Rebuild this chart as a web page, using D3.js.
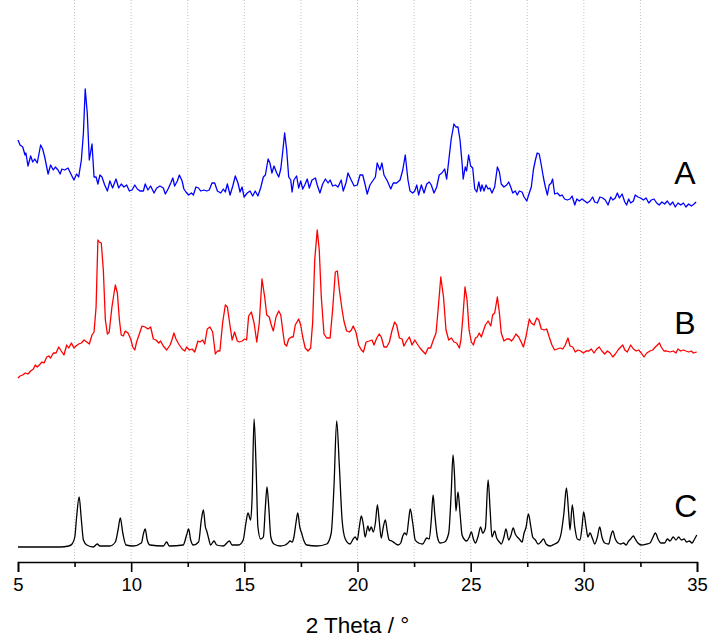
<!DOCTYPE html>
<html>
<head>
<meta charset="utf-8">
<script src="https://cdn.jsdelivr.net/npm/d3@7"></script>
<style>
  html, body { margin: 0; padding: 0; background: #fff; }
  svg { display: block; }
</style>
</head>
<body>
<svg id="chart" width="712" height="637"></svg>
<script>
// Powder XRD patterns: [2θ (°), intensity (a.u.)]
const patternA = [
  [5.00,70],[5.09,65],[5.21,63],[5.31,55],[5.35,57],[5.44,44],[5.56,54],[5.65,48],[5.74,51],[5.85,47],
  [6.00,65],[6.09,61],[6.18,53],[6.33,36],[6.44,45],[6.56,40],[6.65,43],[6.77,40],[6.86,36],[6.94,41],
  [7.06,40],[7.21,42],[7.36,35],[7.47,30],[7.59,36],[7.68,33],[7.80,50],[7.89,77],[7.97,121],[8.06,97],
  [8.15,50],[8.27,66],[8.36,33],[8.45,33],[8.53,26],[8.62,35],[8.71,33],[8.83,25],[8.95,19],[9.06,29],
  [9.18,22],[9.33,31],[9.45,22],[9.56,26],[9.68,23],[9.80,25],[9.92,19],[10.04,20],[10.16,25],[10.27,21],
  [10.39,19],[10.54,19],[10.62,26],[10.74,20],[10.86,24],[11.01,17],[11.13,22],[11.27,24],[11.42,22],[11.51,16],
  [11.63,21],[11.75,27],[11.84,32],[11.92,24],[12.04,29],[12.13,35],[12.25,29],[12.33,21],[12.42,18],[12.54,15],
  [12.66,17],[12.75,15],[12.86,23],[12.98,22],[13.07,19],[13.22,20],[13.34,19],[13.45,20],[13.57,27],[13.69,27],
  [13.81,19],[13.96,17],[14.07,21],[14.16,18],[14.25,26],[14.37,15],[14.49,24],[14.60,34],[14.72,27],[14.81,18],
  [14.90,23],[14.99,13],[15.13,17],[15.25,19],[15.37,14],[15.48,19],[15.60,14],[15.72,22],[15.84,33],[15.93,35],
  [16.05,51],[16.13,47],[16.22,37],[16.31,44],[16.43,37],[16.52,33],[16.61,41],[16.70,59],[16.78,77],[16.87,60],
  [16.96,33],[17.05,30],[17.11,18],[17.19,30],[17.31,34],[17.40,22],[17.49,29],[17.58,21],[17.67,25],[17.78,31],
  [17.87,22],[17.99,30],[18.14,32],[18.22,25],[18.34,17],[18.46,26],[18.58,31],[18.70,27],[18.79,30],[18.90,24],
  [19.02,25],[19.14,23],[19.28,30],[19.37,19],[19.49,27],[19.58,37],[19.70,31],[19.85,24],[19.99,25],[20.11,35],
  [20.23,35],[20.32,27],[20.43,16],[20.55,25],[20.67,29],[20.79,33],[20.87,47],[20.99,40],[21.08,47],[21.17,35],
  [21.32,29],[21.47,21],[21.58,27],[21.73,27],[21.88,30],[22.00,40],[22.11,55],[22.23,30],[22.32,19],[22.44,17],
  [22.53,19],[22.62,25],[22.70,15],[22.82,25],[22.94,17],[23.06,26],[23.17,28],[23.26,25],[23.38,17],[23.50,23],
  [23.61,35],[23.73,37],[23.85,41],[23.94,31],[24.03,49],[24.14,71],[24.26,86],[24.35,83],[24.44,83],[24.53,70],
  [24.62,47],[24.67,31],[24.76,43],[24.82,39],[24.91,55],[25.00,44],[25.09,42],[25.18,21],[25.27,18],[25.36,28],
  [25.44,19],[25.50,25],[25.59,19],[25.68,25],[25.77,21],[25.85,22],[25.94,17],[26.06,23],[26.18,43],[26.27,38],
  [26.35,26],[26.47,23],[26.59,25],[26.68,28],[26.77,23],[26.86,17],[26.97,19],[27.06,15],[27.15,19],[27.27,18],
  [27.36,13],[27.48,9],[27.56,15],[27.68,23],[27.77,40],[27.86,50],[27.94,57],[28.03,56],[28.12,45],[28.21,33],
  [28.30,23],[28.39,15],[28.47,25],[28.56,27],[28.62,31],[28.71,16],[28.83,17],[28.95,14],[29.04,15],[29.15,11],
  [29.27,10],[29.39,11],[29.48,14],[29.60,5],[29.69,11],[29.80,9],[29.92,11],[30.04,9],[30.15,7],[30.27,9],
  [30.39,13],[30.48,8],[30.60,7],[30.71,13],[30.83,12],[30.95,10],[31.07,5],[31.19,13],[31.28,10],[31.39,12],
  [31.48,17],[31.57,12],[31.69,16],[31.81,8],[31.89,5],[31.98,11],[32.07,7],[32.19,9],[32.27,15],[32.39,13],
  [32.51,12],[32.63,10],[32.75,12],[32.87,7],[32.98,10],[33.10,11],[33.22,7],[33.33,5],[33.45,8],[33.57,6],
  [33.69,9],[33.81,5],[33.93,8],[34.04,3],[34.16,7],[34.28,5],[34.40,7],[34.51,3],[34.63,6],[34.75,4],
  [34.87,6],[34.96,8]
];

const patternB = [
  [5.00,2],[5.09,4],[5.21,5],[5.32,7],[5.44,6],[5.56,9],[5.68,11],[5.76,15],[5.85,13],[5.94,15],
  [6.06,18],[6.15,17],[6.27,23],[6.36,24],[6.44,22],[6.56,27],[6.68,27],[6.80,33],[6.91,29],[7.03,25],
  [7.15,35],[7.24,32],[7.36,37],[7.47,32],[7.56,34],[7.68,36],[7.80,37],[7.92,40],[8.04,38],[8.15,36],
  [8.27,45],[8.36,48],[8.45,73],[8.53,140],[8.59,138],[8.68,137],[8.77,110],[8.86,60],[8.95,46],[9.03,48],
  [9.15,73],[9.30,95],[9.39,87],[9.48,60],[9.56,45],[9.65,44],[9.74,49],[9.86,47],[9.98,41],[10.07,33],
  [10.16,30],[10.24,38],[10.36,46],[10.48,54],[10.62,53],[10.74,51],[10.86,53],[10.98,41],[11.10,40],[11.22,37],
  [11.30,39],[11.42,34],[11.57,30],[11.72,35],[11.80,40],[11.89,47],[11.98,41],[12.10,36],[12.25,31],[12.37,29],
  [12.45,33],[12.57,30],[12.69,31],[12.81,28],[12.95,39],[13.04,38],[13.16,40],[13.25,36],[13.36,51],[13.48,53],
  [13.60,48],[13.72,26],[13.81,29],[13.92,29],[14.04,57],[14.16,75],[14.25,73],[14.37,54],[14.46,40],[14.57,48],
  [14.69,39],[14.78,38],[14.90,39],[15.02,41],[15.10,40],[15.19,64],[15.31,68],[15.43,57],[15.55,38],[15.66,57],
  [15.78,101],[15.90,83],[15.99,65],[16.10,63],[16.19,55],[16.28,49],[16.40,63],[16.52,69],[16.61,65],[16.70,49],
  [16.78,36],[16.87,34],[16.96,41],[17.08,43],[17.16,43],[17.25,55],[17.40,61],[17.49,55],[17.58,43],[17.69,32],
  [17.81,29],[17.93,32],[18.02,58],[18.11,120],[18.22,150],[18.31,130],[18.40,83],[18.52,46],[18.64,42],[18.79,42],
  [18.90,70],[19.02,108],[19.11,109],[19.20,90],[19.32,70],[19.40,59],[19.52,49],[19.64,48],[19.73,50],[19.81,54],
  [19.93,48],[20.05,35],[20.17,30],[20.26,28],[20.38,38],[20.52,39],[20.64,40],[20.73,35],[20.85,42],[20.96,46],
  [21.05,43],[21.17,33],[21.29,33],[21.41,38],[21.52,49],[21.64,58],[21.73,55],[21.85,42],[21.97,41],[22.05,34],
  [22.17,39],[22.29,43],[22.41,35],[22.53,40],[22.64,36],[22.76,32],[22.88,29],[23.00,26],[23.12,32],[23.23,32],
  [23.35,40],[23.47,47],[23.56,70],[23.68,103],[23.80,83],[23.91,50],[24.03,40],[24.15,42],[24.26,38],[24.38,37],
  [24.50,32],[24.57,40],[24.66,64],[24.75,93],[24.84,80],[24.93,50],[25.03,38],[25.12,35],[25.21,42],[25.29,43],
  [25.38,47],[25.47,43],[25.56,49],[25.65,55],[25.77,59],[25.89,54],[25.97,65],[26.06,67],[26.18,83],[26.27,67],
  [26.35,47],[26.47,39],[26.59,41],[26.71,41],[26.80,39],[26.88,41],[27.00,46],[27.12,43],[27.21,39],[27.33,33],
  [27.45,44],[27.59,61],[27.68,57],[27.80,55],[27.92,62],[28.01,60],[28.12,51],[28.24,50],[28.36,51],[28.47,43],
  [28.59,35],[28.71,30],[28.83,31],[28.95,32],[29.07,31],[29.18,35],[29.30,42],[29.39,34],[29.51,33],[29.62,28],
  [29.74,30],[29.86,29],[29.98,27],[30.10,29],[30.22,29],[30.33,31],[30.45,27],[30.57,31],[30.68,33],[30.80,29],
  [30.92,26],[31.04,29],[31.16,27],[31.28,23],[31.39,26],[31.51,30],[31.63,33],[31.72,35],[31.81,30],[31.92,28],
  [32.07,35],[32.19,31],[32.31,29],[32.42,30],[32.54,27],[32.66,23],[32.78,27],[32.92,29],[33.04,30],[33.16,33],
  [33.25,35],[33.34,37],[33.42,33],[33.54,29],[33.66,29],[33.81,28],[33.95,29],[34.07,27],[34.16,31],[34.28,29],
  [34.40,30],[34.51,29],[34.63,28],[34.75,29],[34.84,27],[34.99,28]
];

const patternC = [
  [5.00,0],[6.86,0],[7.24,1],[7.39,3],[7.51,10],[7.59,30],[7.70,50],[7.80,27],[7.89,7],[8.04,2],
  [8.33,0],[8.50,3],[8.62,1],[9.06,1],[9.30,5],[9.42,17],[9.52,29],[9.63,14],[9.77,2],[10.09,1],
  [10.45,4],[10.55,14],[10.62,18],[10.71,7],[10.83,2],[11.42,1],[11.57,5],[11.68,1],[12.30,2],[12.45,12],
  [12.54,18],[12.63,7],[12.75,2],[12.98,5],[13.10,27],[13.19,37],[13.28,20],[13.34,16],[13.43,8],[13.51,2],
  [13.66,6],[13.78,2],[14.07,1],[14.34,6],[14.46,2],[14.75,2],[14.95,7],[15.07,24],[15.16,34],[15.28,27],
  [15.34,47],[15.43,128],[15.52,80],[15.60,20],[15.72,8],[15.84,10],[15.93,40],[16.00,60],[16.08,40],[16.17,10],
  [16.31,3],[16.58,1],[16.81,2],[16.93,4],[17.02,6],[17.11,5],[17.19,10],[17.28,24],[17.36,34],[17.45,20],
  [17.53,14],[17.62,7],[17.76,2],[18.20,1],[18.64,3],[18.84,14],[18.96,60],[19.08,126],[19.20,80],[19.32,27],
  [19.46,8],[19.67,3],[19.81,8],[19.90,10],[19.99,7],[20.08,20],[20.17,31],[20.26,22],[20.34,10],[20.46,21],
  [20.52,16],[20.61,20],[20.70,15],[20.79,24],[20.88,42],[20.96,26],[21.05,9],[21.14,20],[21.23,27],[21.32,15],
  [21.40,7],[21.52,6],[21.64,4],[21.79,2],[21.91,4],[22.00,11],[22.09,14],[22.17,12],[22.26,27],[22.33,38],
  [22.44,24],[22.55,7],[22.70,4],[22.88,3],[23.06,9],[23.17,8],[23.26,27],[23.34,52],[23.41,34],[23.53,10],
  [23.65,4],[23.85,5],[24.03,14],[24.14,54],[24.22,92],[24.29,70],[24.35,36],[24.44,55],[24.53,34],[24.62,12],
  [24.74,7],[24.82,6],[24.94,10],[25.03,15],[25.12,8],[25.21,4],[25.32,10],[25.44,20],[25.53,14],[25.65,19],
  [25.77,67],[25.86,37],[25.94,10],[26.06,16],[26.15,9],[26.27,5],[26.35,3],[26.47,10],[26.56,18],[26.68,7],
  [26.77,11],[26.88,19],[26.97,13],[27.06,10],[27.15,8],[27.27,5],[27.36,14],[27.45,20],[27.55,33],[27.66,20],
  [27.74,10],[27.86,7],[27.98,3],[28.10,5],[28.22,8],[28.33,3],[28.51,1],[28.71,3],[28.86,5],[29.00,14],
  [29.12,34],[29.23,59],[29.33,34],[29.39,17],[29.49,42],[29.60,20],[29.71,8],[29.83,7],[29.92,20],[29.99,35],
  [30.10,20],[30.18,10],[30.27,14],[30.39,8],[30.48,3],[30.60,10],[30.70,20],[30.80,10],[30.92,4],[31.10,3],
  [31.19,11],[31.28,16],[31.39,8],[31.51,4],[31.63,3],[31.75,4],[31.87,2],[31.98,6],[32.07,8],[32.19,11],
  [32.27,8],[32.39,4],[32.54,2],[32.78,3],[32.92,4],[33.04,9],[33.16,14],[33.28,8],[33.40,4],[33.57,4],
  [33.69,8],[33.81,6],[33.95,10],[34.07,7],[34.19,10],[34.31,7],[34.43,8],[34.54,5],[34.66,6],[34.78,4],
  [34.87,7],[34.99,12]
];

const seriesNames   = ["A", "B", "C"];
const seriesColors  = ["#0000ff", "#ff0000", "#000000"];
const seriesOffsets = [352, 182, 15];           // vertical stacking offsets (a.u.)
const seriesData    = [patternA, patternB, patternC];

const majorTicks = [5, 10, 15, 20, 25, 30, 35];
const minorTicks = [7.5, 12.5, 17.5, 22.5, 27.5, 32.5];
const gridTicks  = [7.5, 10, 12.5, 15, 17.5, 20, 22.5, 25, 27.5, 30, 32.5];
const xTitle = "2 Theta / °";

const W = 712, H = 637;
const margin = { top: 0, right: 15, bottom: 75, left: 18 };
const plotW = W - margin.left - margin.right;
const plotH = H - margin.top - margin.bottom;

const svg = d3.select("#chart");
svg.append("rect").attr("width", W).attr("height", H).attr("fill", "#fff");

const g = svg.append("g").attr("transform", `translate(${margin.left},${margin.top})`);

const x = d3.scaleLinear().domain([5, 35]).range([0, plotW]);
const y = d3.scaleLinear().domain([0, plotH]).range([plotH, 0]);

// dotted vertical grid
g.append("g")
  .selectAll("line")
  .data(gridTicks)
  .join("line")
  .attr("x1", d => x(d)).attr("x2", d => x(d))
  .attr("y1", 0).attr("y2", plotH)
  .attr("stroke", "#c4c4c4")
  .attr("stroke-width", 1)
  .attr("stroke-dasharray", "1,2");

// stacked patterns
seriesData.forEach((data, i) => {
  const off = seriesOffsets[i];
  const line = d3.line()
    .x(d => x(d[0]))
    .y(d => y(d[1] + off))
    .curve(i === 2 ? d3.curveMonotoneX : d3.curveLinear);
  g.append("path")
    .datum(data)
    .attr("fill", "none")
    .attr("stroke", seriesColors[i])
    .attr("stroke-width", 1.3)
    .attr("stroke-linejoin", "round")
    .attr("d", line);

  const last = data[data.length - 1];
  g.append("text")
    .attr("x", x(34.0))
    .attr("y", y(last[1] + off) - 18)
    .attr("font-family", "Liberation Sans, Arial, sans-serif")
    .attr("font-size", 32)
    .attr("fill", "#000")
    .text(seriesNames[i]);
});

// x axis: major ticks with labels
const axisMajor = d3.axisBottom(x)
  .tickValues(majorTicks)
  .tickSize(10)
  .tickPadding(6)
  .tickFormat(d3.format("d"));
const ax = g.append("g").attr("transform", `translate(0,${plotH})`).call(axisMajor);
ax.select(".domain").attr("stroke", "#000").attr("stroke-width", 1.6);
ax.selectAll(".tick line").attr("stroke", "#000").attr("stroke-width", 1.6);
ax.selectAll(".tick text")
  .attr("font-family", "Liberation Sans, Arial, sans-serif")
  .attr("font-size", 18.5)
  .attr("fill", "#000");

// minor ticks
const axisMinor = d3.axisBottom(x).tickValues(minorTicks).tickSize(5).tickFormat("");
const axm = g.append("g").attr("transform", `translate(0,${plotH})`).call(axisMinor);
axm.select(".domain").remove();
axm.selectAll(".tick line").attr("stroke", "#000").attr("stroke-width", 1.6);

// axis title
g.append("text")
  .attr("x", plotW / 2)
  .attr("y", plotH + 71)
  .attr("text-anchor", "middle")
  .attr("font-family", "Liberation Sans, Arial, sans-serif")
  .attr("font-size", 22.5)
  .attr("fill", "#000")
  .text(xTitle);
</script>
</body>
</html>
